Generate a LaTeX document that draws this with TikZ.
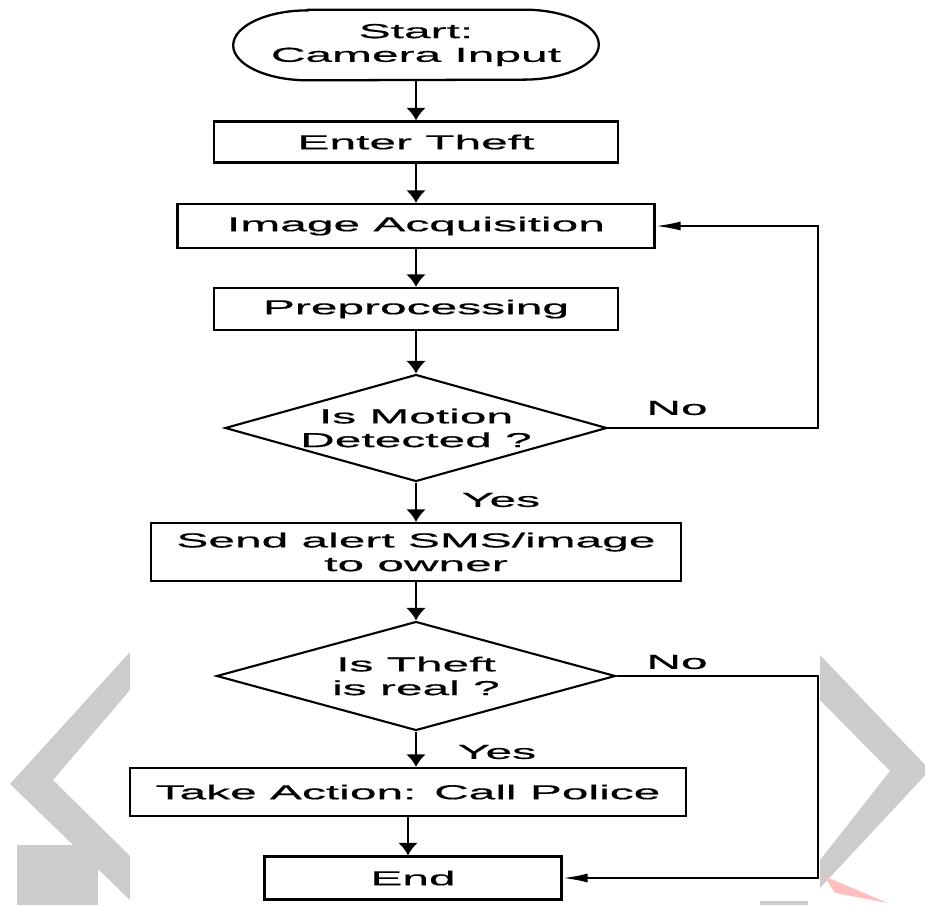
\documentclass[tikz,border=0pt]{standalone}
\usepackage{fontspec}
\newfontfamily\widesans[FakeStretch=2.37, FakeBold=0.6]{Liberation Sans}
\usepackage{tikz}
\usetikzlibrary{shapes.geometric}
\usetikzlibrary{arrows.meta}
\tikzset{>={Latex[length=0.25cm, width=0.4cm]}}
\tikzset{
    chart/.style={font=\widesans\fontsize{11.5}{13.5}\selectfont, align=center, inner sep=0pt},
    terminal/.style={chart, minimum width=7.3cm, minimum height=1.4cm},
    box/.style={chart, draw, line width=1.3pt, rectangle},
    decision/.style={chart, draw, line width=1.2pt, diamond, aspect=3.5, inner sep=-5pt},
    flow/.style={->, line width=1.6pt},
    back/.style={-{Latex[length=0.5cm, width=0.18cm]}, line width=1.2pt},
    watermark/.style={fill=black!20}
}

\begin{document}
\begin{tikzpicture}[x=0.02cm, y=-0.02cm]
    \useasboundingbox(0, 0)rectangle(925, 905);
    % watermark behind the chart
    \fill[watermark](130, 652)--(10, 784)--(130, 900)--(130, 856)--(53, 780)--(130, 690)--cycle;
    \fill[watermark](17, 845)rectangle(98, 905);
    \fill[watermark](820, 655)--(930, 770)--(820, 888)--(820, 860)--(890, 771)--(820, 700)--cycle;
    \fill[watermark](760, 901)rectangle(808, 905);
    \fill[red!25](824, 876)--(888, 903)--(835, 893)--cycle;

    \node[terminal](start) at(416, 45){Start:\\Camera Input};
    \draw[line width=1.3pt]([xshift=1.5cm]start.north west)--([xshift=-1.5cm]start.north east)
        arc[start angle=90, end angle=-90, x radius=1.5cm, y radius=0.7cm]
        --([xshift=1.5cm]start.south west)
        arc[start angle=270, end angle=90, x radius=1.5cm, y radius=0.7cm]--cycle;
    \node[box, minimum width=8.08cm, minimum height=0.82cm](enter) at(416, 142){Enter Theft};
    \node[box, minimum width=9.54cm, minimum height=0.88cm](acq) at(416, 226){Image Acquisition};
    \node[box, minimum width=8.08cm, minimum height=0.84cm](pre) at(416, 309){Preprocessing};
    \node[decision, minimum width=7.64cm, minimum height=2.14cm](motion) at(416, 428){Is Motion\\Detected ?};
    \node[box, minimum width=10.6cm, minimum height=1.16cm](alert) at(416, 552){Send alert SMS/image\\to owner};
    \node[decision, minimum width=7.98cm, minimum height=2.18cm](real) at(416, 676){Is Theft\\is real ?};
    \node[box, minimum width=11.12cm, minimum height=0.96cm](police) at(408, 792){Take Action: Call Police};
    \node[box, minimum width=5.94cm, minimum height=0.86cm](end) at(413, 878){End};

    \node[chart](no1) at(677, 408){No};
    \node[chart](yes1) at(501, 500){Yes};
    \node[chart](no2) at(677, 662){No};
    \node[chart](yes2) at(497, 752){Yes};
    \coordinate(loop) at(818, 0);

    \draw[flow](start)--(enter);
    \draw[flow](enter)--(acq);
    \draw[flow](acq)--(pre);
    \draw[flow](pre)--(motion);
    \draw[flow](motion)--(alert);
    \draw[flow](alert)--(real);
    \draw[flow](real.south)--(real.south |- police.north);
    \draw[flow](police.south)--(police.south |- end.north);
    \draw[back](motion.east)--(motion.east -| loop)|-(acq.east);
    \draw[back](real.east)--(real.east -| loop)|-(end.east);
\end{tikzpicture}
\end{document}
